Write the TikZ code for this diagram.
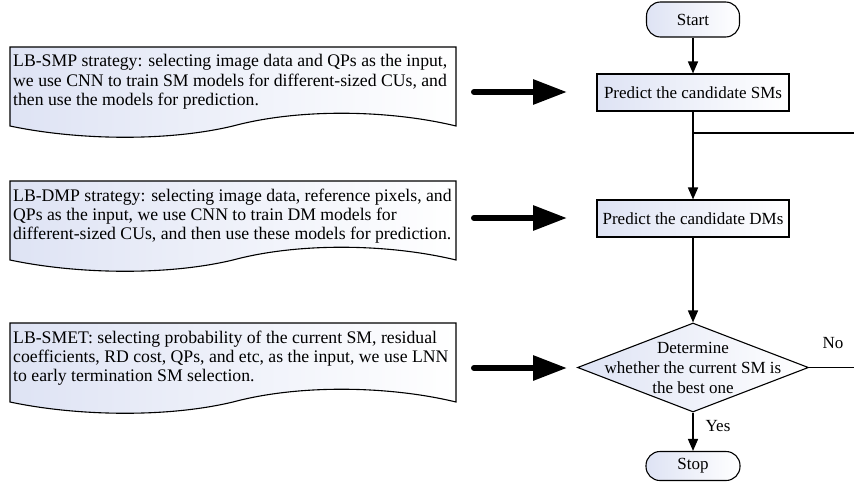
\documentclass[tikz,border=0pt]{standalone}
\usepackage{fontspec}
\setmainfont{Liberation Serif}
\usetikzlibrary{arrows.meta,shapes.geometric}
\definecolor{shadeL}{RGB}{222,227,244}
\tikzset{
  doctext/.style={anchor=north west,inner sep=0pt,align=left,font={\fontsize{17.7pt}{19.4pt}\selectfont}},
  docshape/.style={draw=black,line width=1.1pt,left color=shadeL,right color=white},
  procbox/.style={draw=black,line width=1.1pt,left color=shadeL,right color=white,minimum width=192pt,minimum height=37pt,inner sep=0pt,font={\fontsize{17pt}{20pt}\selectfont}},
  term/.style={draw=black,line width=1.1pt,left color=shadeL,right color=white,rounded corners=14pt,inner sep=0pt,font={\fontsize{17pt}{20pt}\selectfont}},
  decision/.style={diamond,draw=black,line width=1.1pt,left color=shadeL,right color=white,minimum width=231pt,minimum height=89pt,inner sep=0pt},
  flow/.style={line width=1.5pt,-{Triangle[length=12pt,width=10pt]}},
  plain/.style={line width=1.5pt},
  bigarrow/.style={line width=6pt,line cap=round,-{Triangle[length=34pt,width=24pt]}},
  lbl/.style={inner sep=0pt,font={\fontsize{17pt}{20pt}\selectfont}}
}
\begin{document}
\begin{tikzpicture}[x=1pt,y=-1pt]
\useasboundingbox (0,0) rectangle (854,490);
% document shapes
\foreach \dy in {0,134,276}{
  \path[docshape] (10,47+\dy) -- (456,47+\dy) -- (456,126+\dy)
     .. controls (390,110+\dy) and (300,108+\dy) .. (233,126+\dy)
     .. controls (166,142+\dy) and (76,140+\dy) .. (10,126+\dy) -- cycle;
}
\node[doctext] (d1) at (13,54.5) {LB-SMP strategy: selecting image data and QPs as the input,\\we use CNN to train SM models for different-sized CUs, and\\then use the models for prediction.};
\node[doctext] (d2) at (13,188.5) {LB-DMP strategy: selecting image data, reference pixels, and\\QPs as the input, we use CNN to train DM models for\\different-sized CUs, and then use these models for prediction.};
\node[doctext] (d3) at (13,330.5) {LB-SMET: selecting probability of the current SM, residual\\coefficients, RD cost, QPs, and etc, as the input, we use LNN\\to early termination SM selection.};
% flowchart
\node[term,minimum width=93pt,minimum height=35pt] (start) at (693,19.5) {Start};
\node[procbox] (smp) at (693,92.5) {Predict the candidate SMs};
\node[procbox] (dmp) at (693,218.5) {Predict the candidate DMs};
\node[decision] (dec) at (693,367.5) {};
\node[align=center,inner sep=0pt,font={\fontsize{17pt}{20pt}\selectfont}] (dectext) at (693,368) {Determine\\whether the current SM is\\the best one};
\node[term,minimum width=94pt,minimum height=29pt] (stop) at (693,466) {Stop};
\draw[flow] (start) -- (smp);
\draw[flow] (smp) -- (dmp);
\draw[flow] (dmp) -- (dec.north);
\draw[flow] (dec.south) -- (stop);
\coordinate (j1) at (693,133);
\coordinate (e1) at (854,133);
\draw[plain] (j1) -- (e1);
\coordinate (e2) at (854,367.5);
\draw[plain] (dec.east) -- (e2);
\node[lbl] (no) at (833,343) {No};
\node[lbl] (yes) at (718,426) {Yes};
% big arrows
\coordinate (a1s) at (474,92); \coordinate (a1e) at (567,92);
\coordinate (a2s) at (474,218); \coordinate (a2e) at (567,218);
\coordinate (a3s) at (474,368); \coordinate (a3e) at (567,368);
\draw[bigarrow] (a1s) -- (a1e);
\draw[bigarrow] (a2s) -- (a2e);
\draw[bigarrow] (a3s) -- (a3e);
\end{tikzpicture}
\end{document}
